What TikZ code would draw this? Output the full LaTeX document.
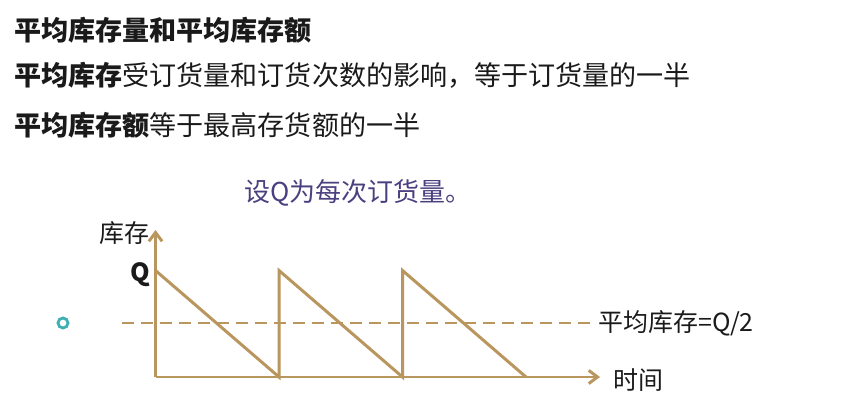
\documentclass[tikz,border=0pt]{standalone}
\usepackage{fontspec}
\setmainfont{Noto Sans CJK SC}
\usetikzlibrary{arrows.meta}
\definecolor{stockbrown}{HTML}{B8965E}
\definecolor{notepurple}{HTML}{4B3F7F}
\definecolor{dotteal}{HTML}{3FAFB2}
\definecolor{textblack}{HTML}{1A1A1A}

\begin{document}
\begin{tikzpicture}[every node/.style={inner sep=0pt,textblack},
    big/.style={font=\fontsize{15.4}{18}\selectfont},
    small/.style={font=\fontsize{14.2}{17}\selectfont},
    stock/.style={stockbrown,line width=1.7pt},
    axis/.style={stock,-{Straight Barb[length=5pt,width=7.5pt]}}]
      \useasboundingbox (0,0) rectangle (16.9,8.2);
      \node[big,anchor=west] (title) at (0.28,7.6) {\bfseries 平均库存量和平均库存额};
      \node[big,anchor=west] (lineone) at (0.28,6.7) {\textbf{平均库存}受订货量和订货次数的影响，等于订货量的一半};
      \node[big,anchor=west] (linetwo) at (0.28,5.7) {\textbf{平均库存额}等于最高存货额的一半};
      \node[anchor=west,notepurple,font=\fontsize{14.8}{17}\selectfont] (note) at (4.88,4.34) {设Q为每次订货量。};
      \draw[axis] (3.11,0.66) -- (3.11,3.6);
      \draw[axis] (3.11,0.66) -- (12.0,0.66);
      \draw[stock] (3.11,2.79) -- (5.58,0.66) -- (5.58,2.79) -- (8.05,0.66) -- (8.05,2.79) -- (10.52,0.66);
      \draw[stockbrown,line width=1.5pt,dash pattern=on 0.24cm off 0.14cm] (2.43,1.74) -- (11.9,1.74);
      \node[small,anchor=east] (stockaxis) at (3.0,3.53) {库存};
      \node[small,font=\fontsize{14.2}{17}\selectfont\bfseries] (peak) at (2.8,2.71) {Q};
      \node[small,anchor=west] (timeaxis) at (12.26,0.6) {时间};
      \node[small,anchor=west] (average) at (11.96,1.74) {平均库存=Q/2};
      \draw[dotteal,line width=1.6pt,fill=white] (1.26,1.74) circle (0.1);
    \end{tikzpicture}
\end{document}
